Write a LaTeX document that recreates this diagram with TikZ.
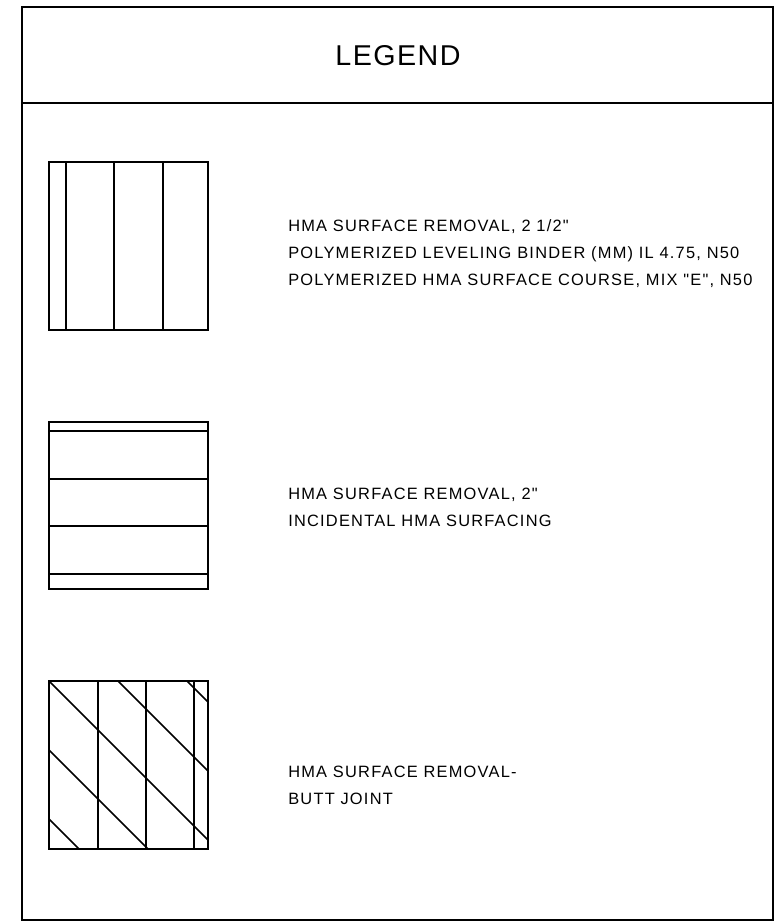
\documentclass[tikz,border=0pt]{standalone}
\usepackage{fontspec}
\setmainfont{Liberation Sans}
\newfontfamily\notefont[LetterSpace=7.5]{Liberation Sans}
\newfontfamily\titlefont[LetterSpace=5]{Liberation Sans}
\tikzset{
  frame/.style={line width=1.6pt},
  swatch/.style={line width=1.1pt},
  note/.style={anchor=base west, inner sep=0pt, font=\notefont\fontsize{12.3}{14}\selectfont},
}

\begin{document}
\begin{tikzpicture}[x=0.75pt,y=-0.75pt]
    \useasboundingbox (0,0) rectangle (784,924);
    \draw[frame] (22,7) rectangle (773,920);
    \draw[frame] (22,103) -- (773,103);
    \node[inner sep=0pt, font=\titlefont\fontsize{21.5}{24}\selectfont] (title) at (398,56) {LEGEND};
    % milling and resurfacing
    \draw[swatch] (49,162) rectangle (208,330);
    \foreach \x in {66,114,163} \draw[swatch] (\x,162) -- (\x,330);
    \node[note] (millA) at (288,231) {HMA SURFACE REMOVAL, 2 1/2"};
    \node[note] (binder) at (288,258) {POLYMERIZED LEVELING BINDER (MM) IL 4.75, N50};
    \node[note] (course) at (288,285) {POLYMERIZED HMA SURFACE COURSE, MIX "E", N50};
    % incidental surfacing
    \draw[swatch] (49,422) rectangle (208,589);
    \foreach \y in {431,479,526,574} \draw[swatch] (49,\y) -- (208,\y);
    \node[note] (millB) at (288,499) {HMA SURFACE REMOVAL, 2"};
    \node[note] (incid) at (288,526) {INCIDENTAL HMA SURFACING};
    % butt joint
    \draw[swatch] (49,681) rectangle (208,849);
    \foreach \x in {98,146,194} \draw[swatch] (\x,681) -- (\x,849);
    \begin{scope}
        \clip (49,681) rectangle (208,849);
        \foreach \c in {-138,-69,0,69,138} \draw[swatch] (49+\c,681) -- ++(200,200);
    \end{scope}
    \node[note] (buttA) at (288,777) {HMA SURFACE REMOVAL-};
    \node[note] (buttB) at (288,804) {BUTT JOINT};
\end{tikzpicture}
\end{document}
